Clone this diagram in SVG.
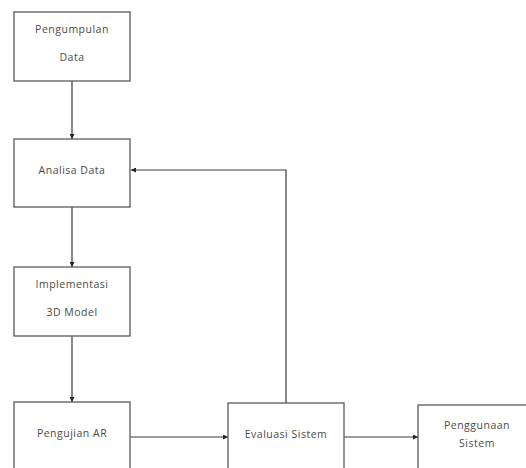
<svg xmlns="http://www.w3.org/2000/svg" width="526" height="468" viewBox="0 0 526 468">
<defs>
<marker id="ah" viewBox="0 0 6 6" refX="6" refY="3" markerWidth="5" markerHeight="5" markerUnits="userSpaceOnUse" orient="auto">
<path d="M0,0 L6,3 L0,6 Z" fill="#222"/>
</marker>
<style>
.box{fill:#fff;stroke:#5a5a5a;stroke-width:1.3}
.lbl{font-family:"Open Sans","Liberation Sans",sans-serif;font-size:10.5px;letter-spacing:0.5px;fill:#4a4a4a;text-anchor:middle;dominant-baseline:central}
.con{fill:none;stroke:#3a3a3a;stroke-width:1.2;marker-end:url(#ah)}
</style>
</defs>
<rect width="526" height="468" fill="#fff"/>
<g id="connectors">
<path class="con" d="M72,81 V139"/>
<path class="con" d="M72,207 V267"/>
<path class="con" d="M72,336 V402"/>
<path class="con" d="M130,437 H228"/>
<path class="con" d="M344,437 H418"/>
<path class="con" d="M286,403 V170 H131"/>
</g>
<g id="n1"><rect class="box" x="14" y="12" width="116" height="69"/><text class="lbl" x="72" y="29">Pengumpulan</text><text class="lbl" x="72" y="57">Data</text></g>
<g id="n2"><rect class="box" x="14" y="139" width="116" height="68"/><text class="lbl" x="72" y="170">Analisa Data</text></g>
<g id="n3"><rect class="box" x="14" y="267" width="116" height="69"/><text class="lbl" x="72" y="284">Implementasi</text><text class="lbl" x="72" y="312">3D Model</text></g>
<g id="n4"><rect class="box" x="14" y="402" width="116" height="80"/><text class="lbl" x="72" y="433">Pengujian AR</text></g>
<g id="n5"><rect class="box" x="228" y="403" width="116" height="80"/><text class="lbl" x="286" y="434">Evaluasi Sistem</text></g>
<g id="n6"><rect class="box" x="418" y="405" width="116" height="80"/><text class="lbl" x="477" y="425">Penggunaan</text><text class="lbl" x="477" y="443">Sistem</text></g>
</svg>
